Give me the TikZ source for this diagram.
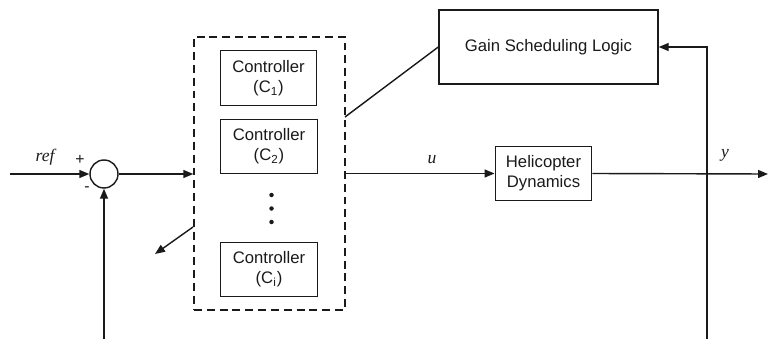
\documentclass[tikz,border=0pt]{standalone}
\usepackage{fontspec}
\setmainfont{Liberation Sans}
\newfontfamily\sigfont{Liberation Serif}
\usepackage{tikz}
\usetikzlibrary{arrows.meta,positioning,calc}
\definecolor{ink}{HTML}{1a1a1a}

\begin{document}
\begin{tikzpicture}[
  every node/.style={font=\fontsize{9.5}{11.5}\selectfont, align=center, inner sep=2pt},
  every path/.style={ink, line width=0.8pt},
  block/.style={draw, rectangle, minimum width=1.93cm, minimum height=1.09cm},
  junction/.style={draw, circle, minimum size=0.56cm, inner sep=0pt},
  sig/.style={font=\sigfont\itshape\fontsize{10}{12}\selectfont},
  sign/.style={font=\fontsize{9}{10}\selectfont, inner sep=0pt},
  flow/.style={-{Triangle[length=2mm, width=1.6mm]}}
]
\useasboundingbox (0, 0) rectangle (15.36, 6.78);

% summing junction and the controller bank
\node[junction] (sum) at (2.08, 3.30) {};
\node[draw, dash pattern=on 4.5pt off 2.8pt, minimum width=3.02cm, minimum height=5.46cm] (bank) at (5.39, 3.31) {};
\node[block] (ctrlA) at (5.37, 5.22) {Controller\\(C\textsubscript{1})};
\node[block] (ctrlB) at (5.38, 3.85) {Controller\\(C\textsubscript{2})};
\node[block] (ctrlI) at (5.38, 1.39) {Controller\\(C\textsubscript{i})};
\foreach \y in {2.88, 2.61, 2.34} {
  \fill[ink] (5.43, \y) circle (0.045);
}

% scheduler and plant
\node[draw, rectangle, minimum width=4.38cm, minimum height=1.48cm] (gain) at (10.97, 5.84) {Gain Scheduling Logic};
\node[block] (heli) at (10.87, 3.31) {Helicopter\\Dynamics};

% free ends of the signal lines
\coordinate (refin) at (0.20, 3.30);
\coordinate (yout) at (15.36, 3.30);
\coordinate (fbL) at (2.08, 0);
\coordinate (fbR) at (14.14, 0);
\coordinate (gsel) at (6.90, 4.44);
\coordinate (swA) at (3.86, 2.24);
\coordinate (swB) at (3.10, 1.70);

\draw[flow] (refin) -- (sum.west);
\draw[flow] (sum.east) -- (sum -| bank.west);
\draw[flow] (fbL) -- (sum.south);
\draw[flow] (heli -| bank.east) -- (heli.west);
\draw[flow] (heli.east) -- (yout);
\draw[flow] (fbR) |- (gain.east);
\draw (gsel) -- (gain.west);
\draw[flow] (swA) -- (swB);

% signal names and signs
\node[sig] (lref) at (0.90, 3.64) {ref};
\node[sign] (lplus) at (1.60, 3.58) {+};
\node[sign] (lminus) at (1.74, 3.00) {-};
\node[sig] (lu) at (8.64, 3.58) {u};
\node[sig] (ly) at (14.50, 3.68) {y};
\end{tikzpicture}
\end{document}
